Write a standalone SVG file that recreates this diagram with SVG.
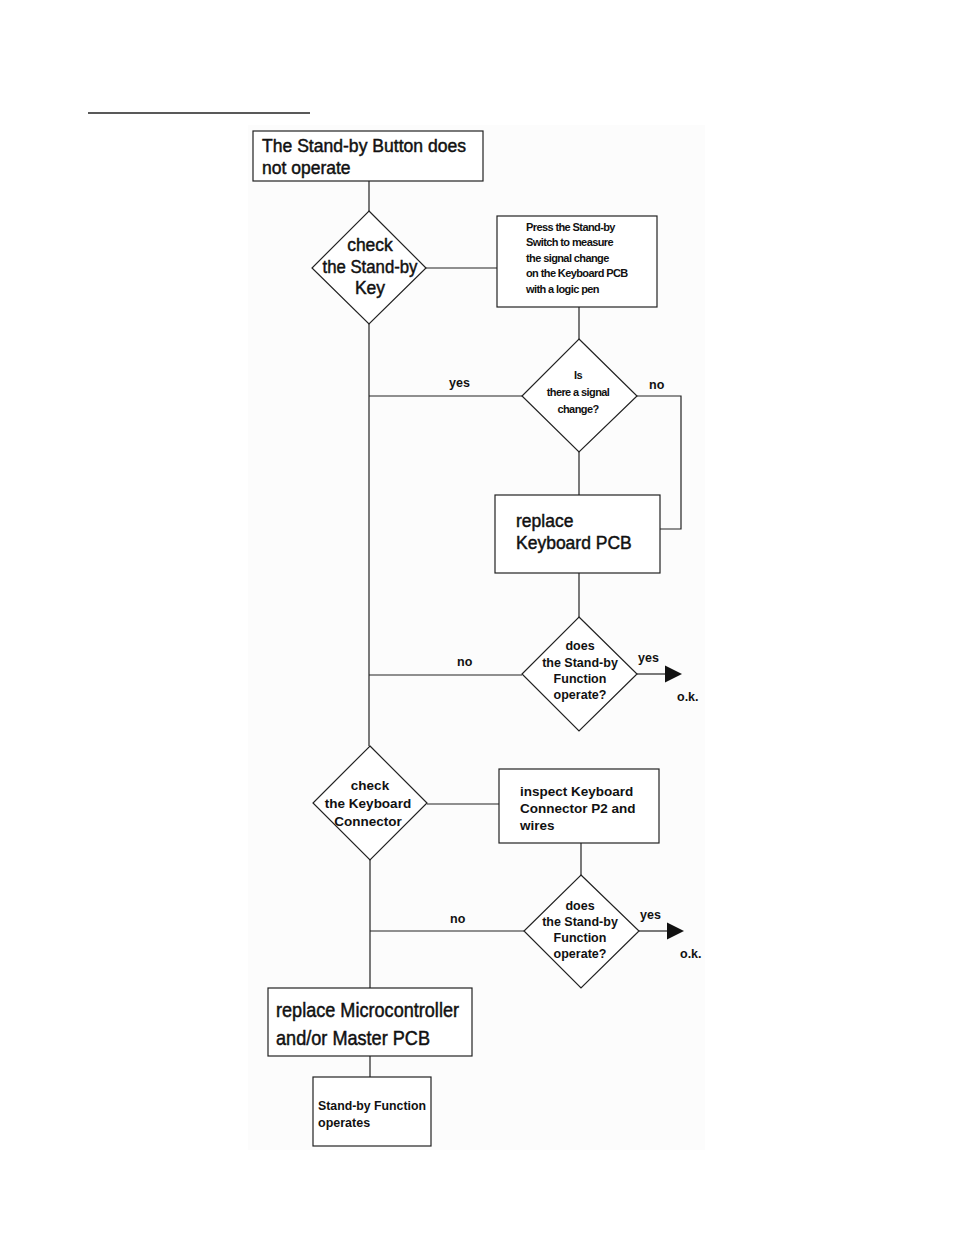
<svg xmlns="http://www.w3.org/2000/svg" width="954" height="1235" viewBox="0 0 954 1235">
<style>
.box{fill:#fff;stroke:#222;stroke-width:1.2}
.ln{fill:none;stroke:#222;stroke-width:1.2}
.t{font-family:"Liberation Sans",Arial,sans-serif;fill:#111}
.big{font-size:17.5px;stroke:#111;stroke-width:0.45}
.mid{font-size:13.5px;font-weight:bold}
.sm{font-size:12.5px;font-weight:bold}
.xs{font-size:11px;font-weight:bold;letter-spacing:-0.6px}
.c{text-anchor:middle}
</style>
<defs>
<marker id="arr" markerWidth="18" markerHeight="18" refX="0" refY="9" orient="auto" markerUnits="userSpaceOnUse">
<polygon points="0,0.5 17,9 0,17.5" fill="#111"/>
</marker>
</defs>
<rect width="954" height="1235" fill="#fff"/>
<rect x="248" y="125" width="457" height="1025" fill="#fcfcfc"/>
<line x1="88" y1="113" x2="310" y2="113" stroke="#222" stroke-width="1.3"/>

<g id="connectors">
<line class="ln" x1="369" y1="181" x2="369" y2="211"/>
<line class="ln" x1="426" y1="268" x2="497" y2="268"/>
<line class="ln" x1="579" y1="307" x2="579" y2="339"/>
<line class="ln" x1="369" y1="324" x2="369" y2="746"/>
<line class="ln" x1="369" y1="396" x2="522" y2="396"/>
<polyline class="ln" points="637,396 681,396 681,529 660,529"/>
<line class="ln" x1="579" y1="452" x2="579" y2="495"/>
<line class="ln" x1="579" y1="573" x2="579" y2="617"/>
<line class="ln" x1="369" y1="675" x2="522" y2="675"/>
<line class="ln" x1="637" y1="674" x2="665" y2="674" marker-end="url(#arr)"/>
<line class="ln" x1="427" y1="804" x2="499" y2="804"/>
<line class="ln" x1="581" y1="843" x2="581" y2="875"/>
<line class="ln" x1="370" y1="860" x2="370" y2="988"/>
<line class="ln" x1="370" y1="931" x2="524" y2="931"/>
<line class="ln" x1="639" y1="931" x2="667" y2="931" marker-end="url(#arr)"/>
<line class="ln" x1="370" y1="1056" x2="370" y2="1077"/>
<text class="t sm" x="449" y="387">yes</text>
<text class="t sm" x="649" y="389">no</text>
<text class="t sm" x="457" y="666">no</text>
<text class="t sm" x="638" y="662">yes</text>
<text class="t sm" x="677" y="701">o.k.</text>
<text class="t sm" x="450" y="923">no</text>
<text class="t sm" x="640" y="919">yes</text>
<text class="t sm" x="680" y="958">o.k.</text>
</g>

<g id="start">
<rect class="box" x="253" y="131" width="230" height="50"/>
<text class="t big" x="262" y="152" textLength="204" lengthAdjust="spacingAndGlyphs">The Stand-by Button does</text>
<text class="t big" x="262" y="174">not operate</text>
</g>

<g id="check-key">
<polygon class="box" points="369,211 426,268 369,324 312,268"/>
<text class="t big c" x="370" y="251">check</text>
<text class="t big c" x="370" y="273" textLength="95" lengthAdjust="spacingAndGlyphs">the Stand-by</text>
<text class="t big c" x="370" y="294">Key</text>
</g>

<g id="press-switch">
<rect class="box" x="497" y="216" width="160" height="91"/>
<text class="t xs" x="526" y="231">Press the Stand-by</text>
<text class="t xs" x="526" y="246">Switch to measure</text>
<text class="t xs" x="526" y="262">the signal change</text>
<text class="t xs" x="526" y="277">on the Keyboard PCB</text>
<text class="t xs" x="526" y="293">with a logic pen</text>
</g>

<g id="signal-change">
<polygon class="box" points="579,339 637,396 579,452 522,396"/>
<text class="t xs c" x="578" y="379">Is</text>
<text class="t xs c" x="578" y="396">there a signal</text>
<text class="t xs c" x="578" y="413">change?</text>
</g>

<g id="replace-keyboard">
<rect class="box" x="495" y="495" width="165" height="78"/>
<text class="t big" x="516" y="527">replace</text>
<text class="t big" x="516" y="549">Keyboard PCB</text>
</g>

<g id="operate-1">
<polygon class="box" points="579,617 637,674 579,731 522,674"/>
<text class="t sm c" x="580" y="650">does</text>
<text class="t sm c" x="580" y="667">the Stand-by</text>
<text class="t sm c" x="580" y="683">Function</text>
<text class="t sm c" x="580" y="699">operate?</text>
</g>

<g id="check-connector">
<polygon class="box" points="370,746 427,803 370,860 313,803"/>
<text class="t mid c" x="370" y="790">check</text>
<text class="t mid c" x="368" y="808">the Keyboard</text>
<text class="t mid c" x="368" y="826">Connector</text>
</g>

<g id="inspect-connector">
<rect class="box" x="499" y="769" width="160" height="74"/>
<text class="t mid" x="520" y="796">inspect Keyboard</text>
<text class="t mid" x="520" y="813">Connector P2 and</text>
<text class="t mid" x="520" y="830">wires</text>
</g>

<g id="operate-2">
<polygon class="box" points="581,875 639,931 581,988 524,931"/>
<text class="t sm c" x="580" y="910">does</text>
<text class="t sm c" x="580" y="926">the Stand-by</text>
<text class="t sm c" x="580" y="942">Function</text>
<text class="t sm c" x="580" y="958">operate?</text>
</g>

<g id="replace-micro">
<rect class="box" x="268" y="988" width="204" height="68"/>
<text class="t" font-size="21" stroke="#111" stroke-width="0.5" x="276" y="1017" textLength="183" lengthAdjust="spacingAndGlyphs">replace Microcontroller</text>
<text class="t" font-size="21" stroke="#111" stroke-width="0.5" x="276" y="1045" textLength="154" lengthAdjust="spacingAndGlyphs">and/or Master PCB</text>
</g>

<g id="operates">
<rect class="box" x="313" y="1077" width="118" height="69"/>
<text class="t sm" x="318" y="1110" textLength="108" lengthAdjust="spacingAndGlyphs">Stand-by Function</text>
<text class="t sm" x="318" y="1127">operates</text>
</g>
</svg>
